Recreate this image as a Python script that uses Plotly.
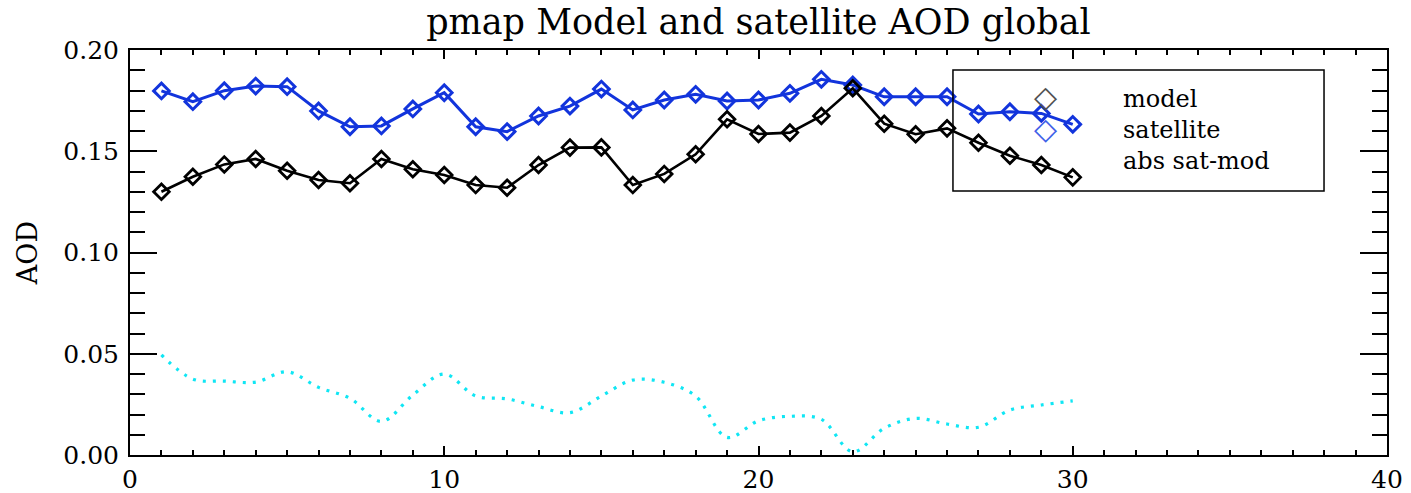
import plotly.graph_objects as go

days = list(range(1, 31))
model = [0.1300, 0.1374, 0.1435, 0.1462, 0.1404, 0.1358, 0.1342, 0.1462, 0.1411, 0.1383,
         0.1333, 0.1320, 0.1432, 0.1518, 0.1519, 0.1333, 0.1388, 0.1485, 0.1658, 0.1585,
         0.1592, 0.1674, 0.1811, 0.1636, 0.1584, 0.1613, 0.1542, 0.1478, 0.1432, 0.1371]
satellite = [0.1798, 0.1745, 0.1799, 0.1822, 0.1819, 0.1699, 0.1621, 0.1625, 0.1709, 0.1789,
             0.1621, 0.1597, 0.1674, 0.1723, 0.1807, 0.1704, 0.1753, 0.1781, 0.1748, 0.1753,
             0.1786, 0.1855, 0.1827, 0.1769, 0.1769, 0.1769, 0.1684, 0.1695, 0.1687, 0.1633]
abs_diff = [0.0494, 0.0375, 0.0365, 0.0360, 0.0411, 0.0334, 0.0280, 0.0166, 0.0296, 0.0400,
            0.0291, 0.0277, 0.0239, 0.0209, 0.0291, 0.0370, 0.0359, 0.0291, 0.0087, 0.0169,
            0.0191, 0.0176, 0.0016, 0.0132, 0.0181, 0.0153, 0.0137, 0.0222, 0.0247, 0.0267]
legend_labels = ["model", "satellite", "abs sat-mod"]
title_text = "pmap Model and satellite AOD global"
y_title = "AOD"

BLUE = "#1234dc"
CYAN = "#10e6f4"
FONT = "DejaVu Serif"

fig = go.Figure()
fig.add_trace(go.Scatter(x=days, y=abs_diff, mode="lines", name=legend_labels[2],
                         line=dict(color=CYAN, width=3.2, dash="3px,7px", shape="spline"),
                         showlegend=False))
fig.add_trace(go.Scatter(x=days, y=satellite, mode="lines+markers", name=legend_labels[1],
                         line=dict(color=BLUE, width=3),
                         marker=dict(symbol="diamond-open", size=12, color=BLUE,
                                     line=dict(width=3, color=BLUE)),
                         showlegend=False))
fig.add_trace(go.Scatter(x=days, y=model, mode="lines+markers", name=legend_labels[0],
                         line=dict(color="black", width=2.6),
                         marker=dict(symbol="diamond-open", size=12, color="black",
                                     line=dict(width=2.8, color="black")),
                         showlegend=False))

# legend drawn as a framed box with a text block and symbols
fig.add_shape(type="rect", xref="paper", yref="paper",
              x0=0.6547, x1=0.9499, y0=0.6519, y1=0.9506,
              line=dict(color="black", width=1.5), fillcolor="rgba(0,0,0,0)")
fig.add_annotation(xref="paper", yref="paper", x=0.7884, y=0.8025,
                   text="<br>".join(legend_labels), align="left",
                   showarrow=False, xanchor="left", yanchor="middle",
                   font=dict(family=FONT, size=24, color="black"))
sym_colors = ["#505050", "#4060e8"]
sym_y = [0.884, 0.805]
for col, yy in zip(sym_colors, sym_y):
    fig.add_annotation(xref="paper", yref="paper", x=0.7287, y=yy, text="◇",
                       showarrow=False, xanchor="center", yanchor="middle",
                       font=dict(family="DejaVu Sans", size=30, color=col))

fig.update_layout(
    width=1411, height=493,
    margin=dict(l=130, r=24, t=50, b=38),
    paper_bgcolor="white", plot_bgcolor="white",
    showlegend=False,
    title=dict(text=title_text, x=0.5, xref="paper", xanchor="center",
               y=1 - 22 / 493, yref="container", yanchor="middle",
               font=dict(family=FONT, size=35, color="black")),
    font=dict(family=FONT, color="black"),
)
fig.update_xaxes(range=[0, 40], dtick=10, tick0=0, showgrid=False, zeroline=False,
                 automargin=False,
                 showline=True, linecolor="black", linewidth=2, mirror="ticks",
                 ticks="inside", ticklen=9, tickwidth=1.5, tickcolor="black",
                 minor=dict(dtick=1, ticks="inside", ticklen=5, tickwidth=1.5,
                            tickcolor="black", showgrid=False),
                 tickfont=dict(family=FONT, size=25, color="black"),
                 ticklabelstandoff=1)
fig.update_yaxes(range=[0, 0.20], dtick=0.05, tick0=0, tickformat=".2f",
                 showgrid=False, zeroline=False, automargin=False,
                 showline=True, linecolor="black", linewidth=2, mirror="ticks",
                 ticks="inside", ticklen=27, tickwidth=1.5, tickcolor="black",
                 minor=dict(dtick=0.01, ticks="inside", ticklen=15, tickwidth=1.5,
                            tickcolor="black", showgrid=False),
                 tickfont=dict(family=FONT, size=25, color="black"),
                 ticklabelstandoff=4,
                 title=dict(text=y_title, standoff=18,
                            font=dict(family=FONT, size=27, color="black")))

fig.write_html("out.html")
